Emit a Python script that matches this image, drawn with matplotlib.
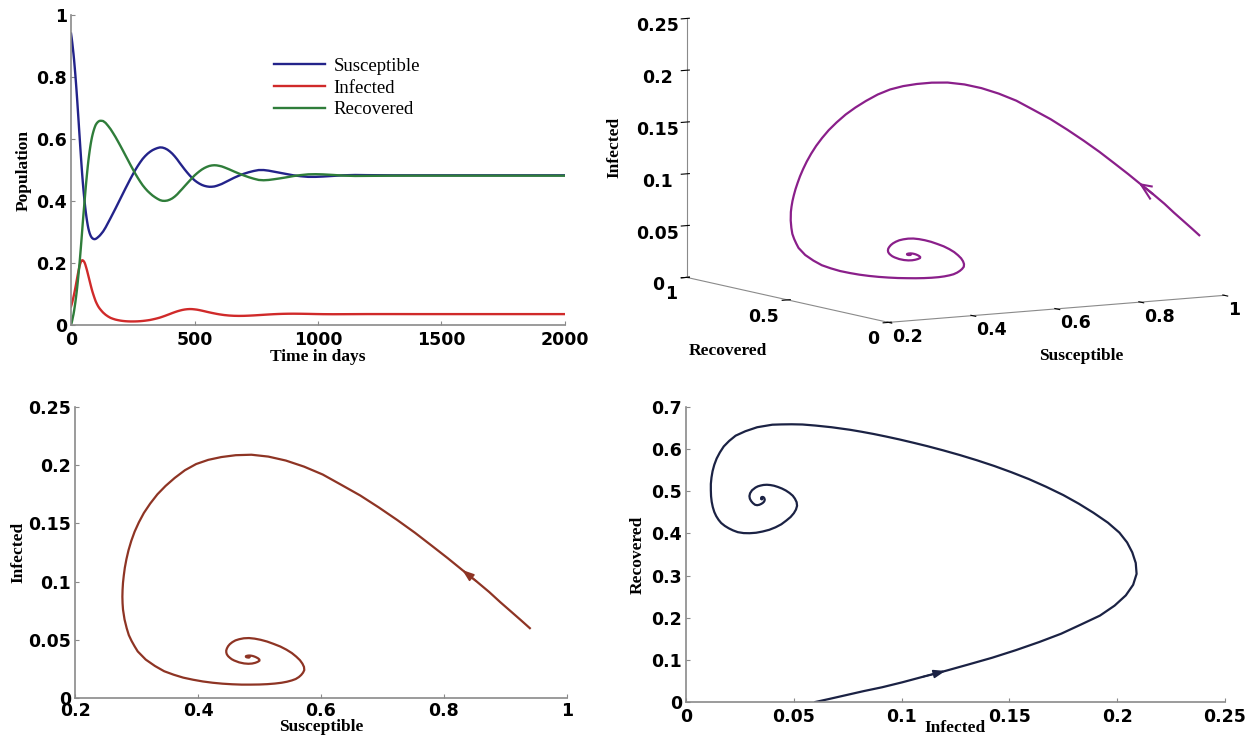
import matplotlib
matplotlib.use("Agg")
import matplotlib.pyplot as plt
from matplotlib.ticker import FuncFormatter
from mpl_toolkits.mplot3d import Axes3D  # noqa: F401

# ---------------- data ----------------
t = [0, 2.5, 5, 7.5, 10, 12.5, 15, 17.5, 20, 22.5, 25, 27.5, 30, 32.5, 35, 37.5,
     40, 42.5, 45, 47.5, 50, 52.5, 55, 57.5, 60, 62.5, 65, 67.5, 70, 72.5, 75, 77.5,
     80, 82.5, 85, 87.5, 90, 92.5, 95, 97.5, 100, 105, 110, 115, 120, 125, 130, 140,
     150, 160, 170, 180, 190, 200, 210, 220, 230, 240, 250, 260, 270, 280, 290, 300,
     310, 320, 330, 340, 350, 360, 370, 380, 390, 400, 410, 420, 430, 440, 450, 460,
     470, 480, 490, 500, 510, 520, 530, 540, 550, 560, 570, 580, 590, 600, 610, 620,
     640, 660, 680, 700, 720, 740, 760, 780, 800, 820, 840, 860, 880, 900, 930, 960,
     990, 1020, 1060, 1100, 1150, 1200, 1300, 1400, 1600, 2000]

susceptible = [0.940, 0.926, 0.910, 0.892, 0.874, 0.853, 0.830, 0.806, 0.780, 0.753,
               0.724, 0.694, 0.664, 0.633, 0.603, 0.5725, 0.543, 0.5145, 0.487, 0.4615,
               0.438, 0.4168, 0.397, 0.3788, 0.362, 0.3473, 0.334, 0.3222, 0.312, 0.3039,
               0.297, 0.2915, 0.287, 0.2836, 0.281, 0.2793, 0.278, 0.2773, 0.277, 0.2773,
               0.278, 0.2805, 0.284, 0.2875, 0.292, 0.297, 0.302, 0.315, 0.330, 0.345,
               0.3605, 0.376, 0.392, 0.408, 0.424, 0.440, 0.4555, 0.471, 0.4857, 0.500,
               0.513, 0.525, 0.536, 0.545, 0.5527, 0.559, 0.5642, 0.568, 0.571, 0.573,
               0.5725, 0.570, 0.5659, 0.560, 0.5528, 0.544, 0.5341, 0.523, 0.5125, 0.502,
               0.4922, 0.483, 0.4746, 0.467, 0.461, 0.456, 0.4519, 0.449, 0.4471, 0.446,
               0.4461, 0.447, 0.4491, 0.452, 0.455, 0.459,
               0.467, 0.475, 0.482, 0.488, 0.493, 0.497, 0.500, 0.500, 0.498, 0.495,
               0.492, 0.489, 0.486, 0.483, 0.480, 0.478, 0.478, 0.479, 0.481, 0.483,
               0.484, 0.4835, 0.483, 0.483, 0.483, 0.483]

infected = [0.060, 0.0666, 0.074, 0.0823, 0.091, 0.1003, 0.110, 0.1203, 0.131, 0.142,
            0.153, 0.1638, 0.174, 0.1832, 0.192, 0.1988, 0.204, 0.2074, 0.209, 0.2086,
            0.207, 0.2046, 0.201, 0.1957, 0.189, 0.1822, 0.175, 0.167, 0.159, 0.151,
            0.143, 0.135, 0.127, 0.1193, 0.112, 0.1053, 0.099, 0.0929, 0.087, 0.0814,
            0.076, 0.0675, 0.060, 0.054, 0.049, 0.0443, 0.040, 0.033, 0.0275, 0.0230,
            0.0200, 0.0175, 0.0157, 0.0142, 0.0131, 0.0123, 0.0118, 0.0115, 0.0115, 0.0116,
            0.0119, 0.0124, 0.0131, 0.0140, 0.0151, 0.0163, 0.0180, 0.0198, 0.0218, 0.0240,
            0.0267, 0.0295, 0.0325, 0.0355, 0.0386, 0.0415, 0.0442, 0.0465, 0.0485, 0.0500,
            0.0510, 0.0515, 0.0513, 0.0505, 0.0495, 0.0480, 0.0463, 0.0445, 0.0426, 0.0408,
            0.0391, 0.0375, 0.0359, 0.0345, 0.0333, 0.0322,
            0.0306, 0.0297, 0.0294, 0.0296, 0.0302, 0.0310, 0.0320, 0.0330, 0.0340, 0.0349,
            0.0356, 0.0361, 0.0364, 0.0365, 0.0363, 0.0359, 0.0354, 0.0350, 0.0348, 0.0349,
            0.0351, 0.0353, 0.0353, 0.0352, 0.0352, 0.0352]

recovered = [0.000, 0.0074, 0.016, 0.0257, 0.035, 0.0467, 0.060, 0.0737, 0.089, 0.105,
             0.123, 0.1422, 0.162, 0.1838, 0.205, 0.2287, 0.253, 0.2781, 0.304, 0.3299,
             0.355, 0.3786, 0.402, 0.4255, 0.449, 0.4705, 0.491, 0.5108, 0.529, 0.5451,
             0.560, 0.5735, 0.586, 0.5971, 0.607, 0.6154, 0.623, 0.6298, 0.636, 0.6413,
             0.646, 0.652, 0.656, 0.6585, 0.659, 0.6587, 0.658, 0.652, 0.6425, 0.632,
             0.6195, 0.6065, 0.5923, 0.5778, 0.5629, 0.5477, 0.5327, 0.5175, 0.5028, 0.4884,
             0.4751, 0.4626, 0.4509, 0.441, 0.4322, 0.4247, 0.4178, 0.4122, 0.4072, 0.403,
             0.4008, 0.4005, 0.4016, 0.4045, 0.4086, 0.4145, 0.4217, 0.4305, 0.439, 0.448,
             0.4568, 0.4655, 0.4741, 0.4825, 0.4895, 0.496, 0.5018, 0.5065, 0.5103, 0.5132,
             0.5148, 0.5155, 0.515, 0.5135, 0.5117, 0.5088,
             0.5024, 0.4953, 0.4886, 0.4824, 0.4768, 0.472, 0.468, 0.467, 0.468, 0.4701,
             0.4724, 0.4749, 0.4776, 0.4805, 0.4837, 0.4861, 0.4866, 0.4860, 0.4842, 0.4821,
             0.4809, 0.4812, 0.4817, 0.4818, 0.4818, 0.4818]

series_names = ["Susceptible", "Infected", "Recovered"]
time_ticks = [0, 500, 1000, 1500, 2000]
pop_ticks = [0, 0.2, 0.4, 0.6, 0.8, 1]
s_ticks = [0.2, 0.4, 0.6, 0.8, 1]
i_ticks = [0, 0.05, 0.1, 0.15, 0.2, 0.25]
r3d_ticks = [0, 0.5, 1]
r_ticks = [0, 0.1, 0.2, 0.3, 0.4, 0.5, 0.6, 0.7]

# ---------------- styles ----------------
C_S, C_I, C_R = "#23238a", "#d02a2a", "#2f7d3a"
C_SI, C_3D, C_IR = "#8e3424", "#8a1f8a", "#1b2244"
SPINE = "#8a8a8a"
TICK_FAMILY, TICK_SIZE = "DejaVu Sans", 12.5
LABFONT = dict(family="Liberation Serif", weight="bold", size=12.5)
fmt = FuncFormatter(lambda v, p: "%g" % v)

fig = plt.figure(figsize=(12.51, 7.38), dpi=100)


def style_ticklabels(labels):
    for lab in labels:
        lab.set_fontfamily(TICK_FAMILY)
        lab.set_fontweight("bold")
        lab.set_fontsize(TICK_SIZE)


def style2d(ax):
    for s in ("top", "right"):
        ax.spines[s].set_visible(False)
    for s in ("left", "bottom"):
        ax.spines[s].set_color(SPINE)
        ax.spines[s].set_linewidth(1.2)
    ax.tick_params(direction="in", length=3, color=SPINE)
    ax.tick_params(axis="x", pad=4)
    ax.tick_params(axis="y", pad=3)
    ax.xaxis.set_major_formatter(fmt)
    ax.yaxis.set_major_formatter(fmt)
    style_ticklabels(ax.get_xticklabels() + ax.get_yticklabels())


# ---- top-right: 3D phase portrait (drawn first, transparent background) ----
ax3 = fig.add_axes([0.3544, 0.3735, 0.806, 0.806], projection="3d", proj_type="ortho")
ax3.set_facecolor((1, 1, 1, 0))
ax3.patch.set_alpha(0)
ax3.plot(susceptible, recovered, infected, color=C_3D, lw=1.6)
ax3.quiver(susceptible[5], recovered[5], infected[5],
           susceptible[6] - susceptible[5], recovered[6] - recovered[5],
           infected[6] - infected[5], color=C_3D, arrow_length_ratio=0.9, lw=1.5)
ax3.set_xlim(0.2, 1)
ax3.set_ylim(0, 1)
ax3.set_zlim(0, 0.25)
ax3.set_xticks(s_ticks)
ax3.set_yticks(r3d_ticks)
ax3.set_zticks(i_ticks)
ax3.view_init(elev=7.7, azim=-121)
ax3.set_box_aspect((1.5, 1.5, 1.0))
ax3.grid(False)
for axis in (ax3.xaxis, ax3.yaxis, ax3.zaxis):
    axis.set_pane_color((1, 1, 1, 0))
    axis.pane.set_edgecolor((1, 1, 1, 0))
    axis.line.set_color(SPINE)
    axis.set_major_formatter(fmt)
    axis._axinfo["tick"]["color"] = SPINE
ax3.tick_params(axis="x", pad=-4)
ax3.tick_params(axis="y", pad=-2)
ax3.tick_params(axis="z", pad=4)
style_ticklabels(ax3.get_xticklabels() + ax3.get_yticklabels() + ax3.get_zticklabels())
for lab in ax3.get_xticklabels():
    lab.set_horizontalalignment("left")
for lab in ax3.get_yticklabels():
    lab.set_horizontalalignment("right")
ax3.set_xlabel("")
ax3.set_ylabel("")
ax3.set_zlabel("")
fig.text(0.491, 0.80, "Infected", rotation=90, ha="center", va="center", fontdict=LABFONT)
fig.text(0.582, 0.524, "Recovered", ha="center", va="center", fontdict=LABFONT)
fig.text(0.864, 0.518, "Susceptible", ha="center", va="center", fontdict=LABFONT)

# ---- top-left: time series ----
ax1 = fig.add_axes([0.0568, 0.5596, 0.3948, 0.420])
ax1.set_facecolor((1, 1, 1, 0))
ax1.plot(t, susceptible, color=C_S, lw=1.7, label=series_names[0])
ax1.plot(t, infected, color=C_I, lw=1.7, label=series_names[1])
ax1.plot(t, recovered, color=C_R, lw=1.7, label=series_names[2])
ax1.set_xlim(0, 2000)
ax1.set_ylim(0, 1)
ax1.set_xticks(time_ticks)
ax1.set_yticks(pop_ticks)
style2d(ax1)
ax1.set_xlabel("Time in days", fontdict=LABFONT, labelpad=0)
ax1.set_ylabel("Population", fontdict=LABFONT, labelpad=3)
ax1.legend(loc="upper left", bbox_to_anchor=(0.385, 0.905), frameon=False,
           prop=dict(family="Liberation Serif", size=13.5), handlelength=2.7,
           handletextpad=0.45, labelspacing=0.25, borderpad=0.2)

# ---- bottom-left: S vs I ----
ax2 = fig.add_axes([0.060, 0.0542, 0.393, 0.3943])
ax2.set_facecolor((1, 1, 1, 0))
ax2.plot(susceptible, infected, color=C_SI, lw=1.6)
ax2.annotate("", xy=(susceptible[6], infected[6]), xytext=(susceptible[5], infected[5]),
             arrowprops=dict(arrowstyle="-|>,head_length=0.7,head_width=0.25",
                             color=C_SI, lw=1.2, shrinkA=0, shrinkB=0))
ax2.set_xlim(0.2, 1)
ax2.set_ylim(0, 0.25)
ax2.set_xticks(s_ticks)
ax2.set_yticks(i_ticks)
style2d(ax2)
ax2.tick_params(axis="x", pad=3)
ax2.set_xlabel("Susceptible", fontdict=LABFONT, labelpad=-1)
ax2.set_ylabel("Infected", fontdict=LABFONT, labelpad=1)

# ---- bottom-right: I vs R ----
ax4 = fig.add_axes([0.5484, 0.0488, 0.4308, 0.3997])
ax4.set_facecolor((1, 1, 1, 0))
ax4.plot(infected, recovered, color=C_IR, lw=1.6)
ax4.annotate("", xy=(infected[7], recovered[7]), xytext=(infected[6], recovered[6]),
             arrowprops=dict(arrowstyle="-|>,head_length=0.7,head_width=0.25",
                             color=C_IR, lw=1.2, shrinkA=0, shrinkB=0))
ax4.set_xlim(0, 0.25)
ax4.set_ylim(0, 0.7)
ax4.set_xticks(i_ticks)
ax4.set_yticks(r_ticks)
style2d(ax4)
ax4.set_xlabel("Infected", fontdict=LABFONT, labelpad=-4)
ax4.set_ylabel("Recovered", fontdict=LABFONT, labelpad=4)

fig.savefig("out.png", dpi=100)
